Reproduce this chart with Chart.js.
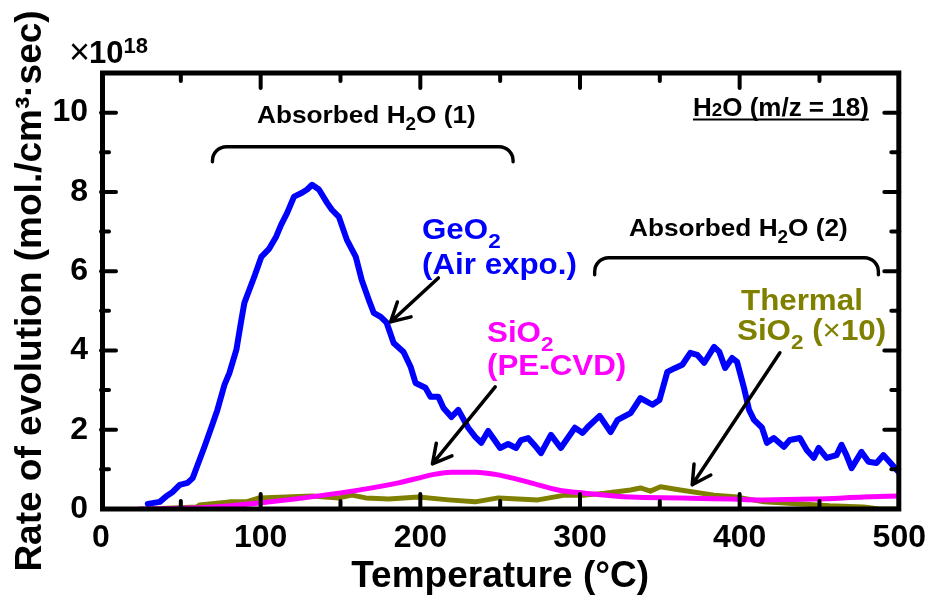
<!DOCTYPE html>
<html>
<head>
<meta charset="utf-8">
<script src="https://cdn.jsdelivr.net/npm/chart.js@4.4.1/dist/chart.umd.min.js"></script>
<style>
  html, body { margin: 0; padding: 0; background: #fff; }
</style>
</head>
<body>
<canvas id="c" width="936" height="595"></canvas>
<script>
// values: temperature in degC, rate in 1e18 mol./cm3.sec
var geoTemp = [29.3, 36.8, 41.1, 44.9, 49.3, 54.2, 57.4, 60.5, 64.8, 69.2, 72.9, 77.3, 80.4, 84.8, 87.9, 89.8,
  92.9, 96.0, 100.4, 105.4, 109.7, 112.8, 116.6, 120.9, 125.9, 129.1, 132.2, 136.5, 141.5, 144.6, 149.0, 154.0,
  159.6, 163.3, 167.7, 170.8, 175.2, 178.9, 183.3, 189.5, 193.9, 197.0, 203.2, 206.4, 211.3, 214.5, 219.5, 223.8,
  230.0, 234.4, 238.2, 242.5, 245.6, 250.0, 255.0, 260.0, 263.1, 267.5, 272.4, 275.6, 281.8, 288.0, 296.8, 301.7,
  304.9, 312.3, 319.2, 323.6, 331.7, 337.9, 345.4, 349.8, 354.7, 359.7, 364.1, 369.1, 373.4, 377.8, 384.0, 387.2,
  390.9, 395.3, 398.4, 402.7, 405.9, 409.0, 414.0, 417.1, 421.4, 427.7, 431.4, 437.7, 442.0, 446.4, 449.5, 454.5,
  460.7, 463.8, 466.9, 470.1, 476.3, 480.7, 485.7, 490.0, 493.8, 499.4];
var geoRate = [0.13, 0.18, 0.33, 0.43, 0.61, 0.66, 0.78, 1.11, 1.57, 2.07, 2.50, 3.13, 3.43, 4.02, 4.77, 5.20,
  5.53, 5.86, 6.36, 6.57, 6.87, 7.17, 7.47, 7.88, 7.98, 8.06, 8.18, 8.06, 7.73, 7.55, 7.37, 6.79,
  6.36, 5.78, 5.28, 4.95, 4.85, 4.70, 4.19, 3.96, 3.59, 3.18, 3.06, 2.83, 2.83, 2.55, 2.32, 2.50,
  2.05, 1.82, 1.67, 1.97, 1.79, 1.54, 1.64, 1.54, 1.74, 1.79, 1.57, 1.41, 1.87, 1.54, 2.05, 1.92,
  2.07, 2.35, 1.94, 2.25, 2.42, 2.80, 2.63, 2.75, 3.46, 3.56, 3.64, 3.94, 3.89, 3.69, 4.09, 3.97,
  3.56, 3.81, 3.71, 3.06, 2.50, 2.25, 2.05, 1.67, 1.79, 1.57, 1.74, 1.79, 1.49, 1.29, 1.54, 1.29,
  1.36, 1.62, 1.36, 1.03, 1.44, 1.19, 1.16, 1.36, 1.19, 0.94];

var pecvdTemp = [24.3, 61.7, 99.1, 149.0, 186.4, 198.9, 207.0, 219.5, 234.4, 248.8, 269.3, 286.2, 303.0,
  331.7, 362.8, 394.0, 415.2, 446.4, 477.6, 500];
var pecvdRate = [0.0, 0.03, 0.15, 0.40, 0.66, 0.78, 0.86, 0.93, 0.93, 0.86, 0.66, 0.48, 0.40,
  0.30, 0.28, 0.25, 0.23, 0.25, 0.30, 0.33];

var thermTemp = [30, 59.9, 61.7, 80.4, 91.0, 99.1, 116.0, 132.2, 149.0, 157.1, 165.8, 180.2, 198.9, 217.6,
  234.4, 248.8, 273.7, 290.5, 303.0, 315.5, 331.7, 337.9, 344.1, 350.4, 362.8, 384.0, 398.4, 415.2,
  435.8, 456.4, 477.6, 487.5, 500];
var thermRate = [0.0, 0.05, 0.10, 0.18, 0.18, 0.28, 0.30, 0.33, 0.28, 0.35, 0.28, 0.25, 0.30, 0.23,
  0.18, 0.28, 0.23, 0.35, 0.35, 0.40, 0.48, 0.53, 0.45, 0.56, 0.48, 0.35, 0.30, 0.18,
  0.13, 0.08, 0.05, 0.0, 0.0];

var xTicks = [0, 100, 200, 300, 400, 500];
var yTicks = [0, 2, 4, 6, 8, 10];

var FAM = "'Liberation Sans', Arial, Helvetica, sans-serif";

function pts(xs, ys) {
  return xs.map(function (x, i) { return { x: x, y: ys[i] }; });
}

// text with subscripts; parts = [[text, kind]], kind: '' bold, 's' subscript, 'i' inline small, 'x' regular
function rich(ctx, parts, x, y, size, color, sx) {
  ctx.save();
  ctx.translate(x, y);
  ctx.scale(sx, 1);
  ctx.fillStyle = color;
  ctx.textAlign = 'left';
  ctx.textBaseline = 'alphabetic';
  var cx = 0;
  parts.forEach(function (p) {
    var s = size, dy = 0, w = 'bold ';
    if (p[1] === 's') { s = size * 0.72; dy = size * 0.3; }
    if (p[1] === 'i') { s = size * 0.72; }
    if (p[1] === 'x') { w = ''; }
    ctx.font = w + s + 'px ' + FAM;
    ctx.fillText(p[0], cx, dy);
    cx += ctx.measureText(p[0]).width;
  });
  ctx.restore();
  return cx * sx;
}

function arrow(ctx, x1, y1, x2, y2) {
  var a = Math.atan2(y2 - y1, x2 - x1), L = 21, h = 0.5;
  ctx.beginPath();
  ctx.moveTo(x1, y1);
  ctx.lineTo(x2, y2);
  ctx.moveTo(x2 - L * Math.cos(a - h), y2 - L * Math.sin(a - h));
  ctx.lineTo(x2, y2);
  ctx.lineTo(x2 - L * Math.cos(a + h), y2 - L * Math.sin(a + h));
  ctx.stroke();
}

function bracket(ctx, x1, x2, yt, yb) {
  var r = 14;
  ctx.beginPath();
  ctx.moveTo(x1, yb);
  ctx.arcTo(x1, yt, x1 + r, yt, r);
  ctx.lineTo(x2 - r, yt);
  ctx.arcTo(x2, yt, x2, yb, r);
  ctx.lineTo(x2, yb);
  ctx.stroke();
}

var decor = {
  id: 'decor',
  afterDatasetsDraw: function (chart) {
    var ctx = chart.ctx, xs = chart.scales.x, ys = chart.scales.y, a = chart.chartArea;
    var X = function (v) { return xs.getPixelForValue(v); };
    var Y = function (v) { return ys.getPixelForValue(v); };
    ctx.save();
    ctx.strokeStyle = '#000';
    ctx.lineCap = 'round';

    // frame
    ctx.lineWidth = 5;
    ctx.strokeRect(a.left + 1.5, a.top, a.right - a.left - 2, a.bottom - a.top);

    // inward ticks on all four sides
    ctx.lineWidth = 4;
    ctx.beginPath();
    for (var t = 50; t < 500; t += 50) {
      var len = t % 100 === 0 ? 15 : 8, px = X(t);
      ctx.moveTo(px, a.bottom); ctx.lineTo(px, a.bottom - len);
      ctx.moveTo(px, a.top); ctx.lineTo(px, a.top + len);
    }
    for (var v = 1; v <= 10; v++) {
      var len2 = v % 2 === 0 ? 15 : 8, py = Y(v);
      ctx.moveTo(a.left, py); ctx.lineTo(a.left + len2, py);
      ctx.moveTo(a.right, py); ctx.lineTo(a.right - len2, py);
    }
    ctx.stroke();

    // multiplier
    var mx = 69;
    ctx.fillStyle = '#000';
    ctx.textBaseline = 'alphabetic';
    ctx.font = '36px ' + FAM;
    ctx.fillText('\u00d7', mx, 64);
    mx += ctx.measureText('\u00d7').width - 1;
    ctx.font = 'bold 31px ' + FAM;
    ctx.fillText('10', mx, 63);
    mx += ctx.measureText('10').width;
    ctx.font = 'bold 22px ' + FAM;
    ctx.fillText('18', mx, 53);

    // brackets
    ctx.lineWidth = 3.4;
    bracket(ctx, X(69.8), X(258.1), Y(9.14), Y(8.76));
    bracket(ctx, X(309.2), X(486.9), Y(6.34), Y(5.91));

    // labels
    rich(ctx, [['Absorbed H', ''], ['2', 's'], ['O (1)', '']], 257, 123, 24.5, '#000', 1.07);
    rich(ctx, [['Absorbed H', ''], ['2', 's'], ['O (2)', '']], 629, 236, 24.5, '#000', 1.07);
    var w = rich(ctx, [['H', ''], ['2', 'i'], ['O (m/z = 18)', '']], 693, 116, 25, '#000', 1.04);
    ctx.lineWidth = 2;
    ctx.lineCap = 'butt';
    ctx.beginPath(); ctx.moveTo(693, 119.5); ctx.lineTo(693 + w, 119.5); ctx.stroke();

    rich(ctx, [['GeO', ''], ['2', 's']], 422, 239, 29, '#0000ff', 1.08);
    rich(ctx, [['(Air expo.)', '']], 422, 274, 29, '#0000ff', 1.08);
    rich(ctx, [['SiO', ''], ['2', 's']], 487, 342, 29, '#ff00ff', 1.08);
    rich(ctx, [['(PE-CVD)', '']], 487, 375, 29, '#ff00ff', 1.08);
    rich(ctx, [['Thermal', '']], 741, 310, 29, '#808000', 1.08);
    rich(ctx, [['SiO', ''], ['2', 's'], [' (', ''], ['\u00d7', 'x'], ['10)', '']], 737, 340, 29, '#808000', 1.08);

    // arrows
    ctx.lineWidth = 3.5;
    ctx.lineCap = 'round';
    ctx.lineJoin = 'round';
    arrow(ctx, X(211.3), Y(5.83), X(181.4), Y(4.72));
    arrow(ctx, X(246.9), Y(3.08), X(207.6), Y(1.14));
    arrow(ctx, X(425.2), Y(3.94), X(370.3), Y(0.61));
    ctx.restore();
  }
};

var tickFont = { family: FAM, size: 32, weight: 'bold' };

new Chart(document.getElementById('c').getContext('2d'), {
  type: 'line',
  data: {
    datasets: [
      { label: 'GeO2 (Air expo.)', data: pts(geoTemp, geoRate), borderColor: '#0000ff', borderWidth: 6,
        pointRadius: 0, tension: 0, borderJoinStyle: 'round', borderCapStyle: 'round' },
      { label: 'SiO2 (PE-CVD)', data: pts(pecvdTemp, pecvdRate), borderColor: '#ff00ff', borderWidth: 5,
        pointRadius: 0, tension: 0.4, cubicInterpolationMode: 'monotone', borderCapStyle: 'round' },
      { label: 'Thermal SiO2 (x10)', data: pts(thermTemp, thermRate), borderColor: '#808000', borderWidth: 5,
        pointRadius: 0, tension: 0, borderJoinStyle: 'round', borderCapStyle: 'round' }
    ]
  },
  options: {
    responsive: false,
    animation: false,
    devicePixelRatio: 1,
    layout: { padding: { top: 73, right: 33, left: 0, bottom: 0 } },
    plugins: { legend: { display: false }, tooltip: { enabled: false } },
    scales: {
      x: {
        type: 'linear', min: 0, max: 500,
        afterFit: function (s) { s.height = 86; },
        afterBuildTicks: function (s) { s.ticks = xTicks.map(function (v) { return { value: v }; }); },
        grid: { display: false, drawTicks: false },
        border: { display: false },
        ticks: { font: tickFont, color: '#000', padding: 10, maxRotation: 0, autoSkip: false },
        title: { display: true, text: 'Temperature (\u00b0C)', color: '#000', padding: 0,
          font: { family: FAM, size: 37, weight: 'bold', lineHeight: 1 } }
      },
      y: {
        type: 'linear', min: 0, max: 11,
        afterFit: function (s) { s.width = 101; },
        afterBuildTicks: function (s) { s.ticks = yTicks.map(function (v) { return { value: v }; }); },
        grid: { display: false, drawTicks: false },
        border: { display: false },
        ticks: { font: tickFont, color: '#000', padding: 13 },
        title: { display: true, text: 'Rate of evolution (mol./cm\u00b3\u00b7sec)', color: '#000',
          padding: { top: 12, bottom: 0 },
          font: { family: FAM, size: 37, weight: 'bold', lineHeight: 1 } }
      }
    }
  },
  plugins: [decor]
});
</script>
</body>
</html>
